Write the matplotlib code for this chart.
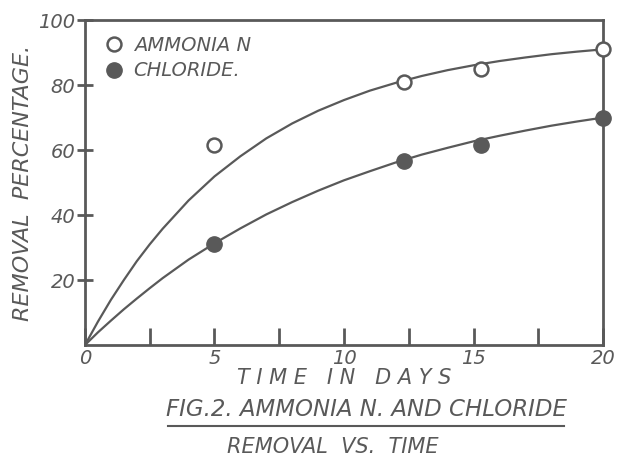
import matplotlib
matplotlib.use("Agg")
import matplotlib.pyplot as plt

days_pts = [5, 12.3, 15.3, 20]
ammonia_pts = [61.5, 81, 85, 91]
chloride_pts = [31, 56.5, 61.5, 70]

# hand drawn smooth curves
days_curve = [0, 0.5, 1, 1.5, 2, 2.5, 3, 4, 5, 6, 7, 8, 9, 10,
              11, 12, 13, 14, 15, 16, 17, 18, 19, 20]
ammonia_curve = [0, 7.2, 13.9, 20.0, 25.8, 31.0, 35.8, 44.5, 51.9, 58.1, 63.6, 68.2, 72.1, 75.4,
                 78.3, 80.7, 82.8, 84.6, 86.1, 87.4, 88.5, 89.5, 90.3, 91.0]
chloride_curve = [0, 3.9, 7.5, 11.0, 14.3, 17.5, 20.6, 26.3, 31.3, 35.9, 40.2, 44.0, 47.5, 50.7,
                  53.5, 56.2, 58.6, 60.7, 62.7, 64.4, 66.0, 67.5, 68.8, 70.0]

x_ticks = [0, 2.5, 5, 7.5, 10, 12.5, 15, 17.5, 20]
x_labels = ['0', '', '5', '', '10', '', '15', '', '20']
y_ticks = [20, 40, 60, 80, 100]
y_labels = ['20', '40', '60', '80', '100']

ink = '#595959'
plt.rcParams['font.family'] = ['DejaVu Sans']

fig = plt.figure(figsize=(6.23, 4.57), dpi=100)
ax = fig.add_axes([0.1364, 0.245, 0.8316, 0.711])

ax.plot(days_curve, ammonia_curve, '-', color=ink, lw=1.6)
ax.plot(days_curve, chloride_curve, '-', color=ink, lw=1.6)
ax.plot(days_pts, ammonia_pts, 'o', ms=10, mfc='white', mec=ink, mew=1.8,
        clip_on=False, zorder=3, label='AMMONIA N')
ax.plot(days_pts, chloride_pts, 'o', ms=11, mfc=ink, mec=ink,
        clip_on=False, zorder=3, label='CHLORIDE.')

ax.set_xlim(0, 20)
ax.set_ylim(0, 100)
for s in ax.spines.values():
    s.set_color(ink)
    s.set_linewidth(2)

ax.set_xticks(x_ticks)
ax.set_xticklabels(x_labels, fontstyle='italic', fontsize=14, color=ink)
ax.set_yticks(y_ticks)
ax.set_yticklabels(y_labels, fontstyle='italic', fontsize=14, color=ink)
ax.tick_params(axis='x', direction='in', length=12, width=2, color=ink, pad=3)
ax.tick_params(axis='y', direction='inout', length=12, width=2, color=ink, pad=1)

ax.set_xlabel('T I M E   I N   D A Y S', fontstyle='italic', fontsize=15, color=ink, labelpad=0)
ax.set_ylabel('REMOVAL  PERCENTAGE.', fontstyle='italic', fontsize=16, color=ink, labelpad=4)

leg = ax.legend(loc='upper left', frameon=False, handletextpad=0.3, handlelength=1.4,
                borderaxespad=0.4, labelspacing=0.35, prop={'style': 'italic', 'size': 14})
for t in leg.get_texts():
    t.set_color(ink)

fig.text(0.588, 0.103, 'FIG.2. AMMONIA N. AND CHLORIDE', ha='center', va='center',
         fontstyle='italic', fontsize=16.5, color=ink)
fig.add_artist(plt.Line2D([0.27, 0.905], [0.067, 0.067], color=ink, lw=1.5))
fig.text(0.535, 0.022, 'REMOVAL  VS.  TIME', ha='center', va='center',
         fontstyle='italic', fontsize=15, color=ink)

fig.savefig('out.png', dpi=100)
